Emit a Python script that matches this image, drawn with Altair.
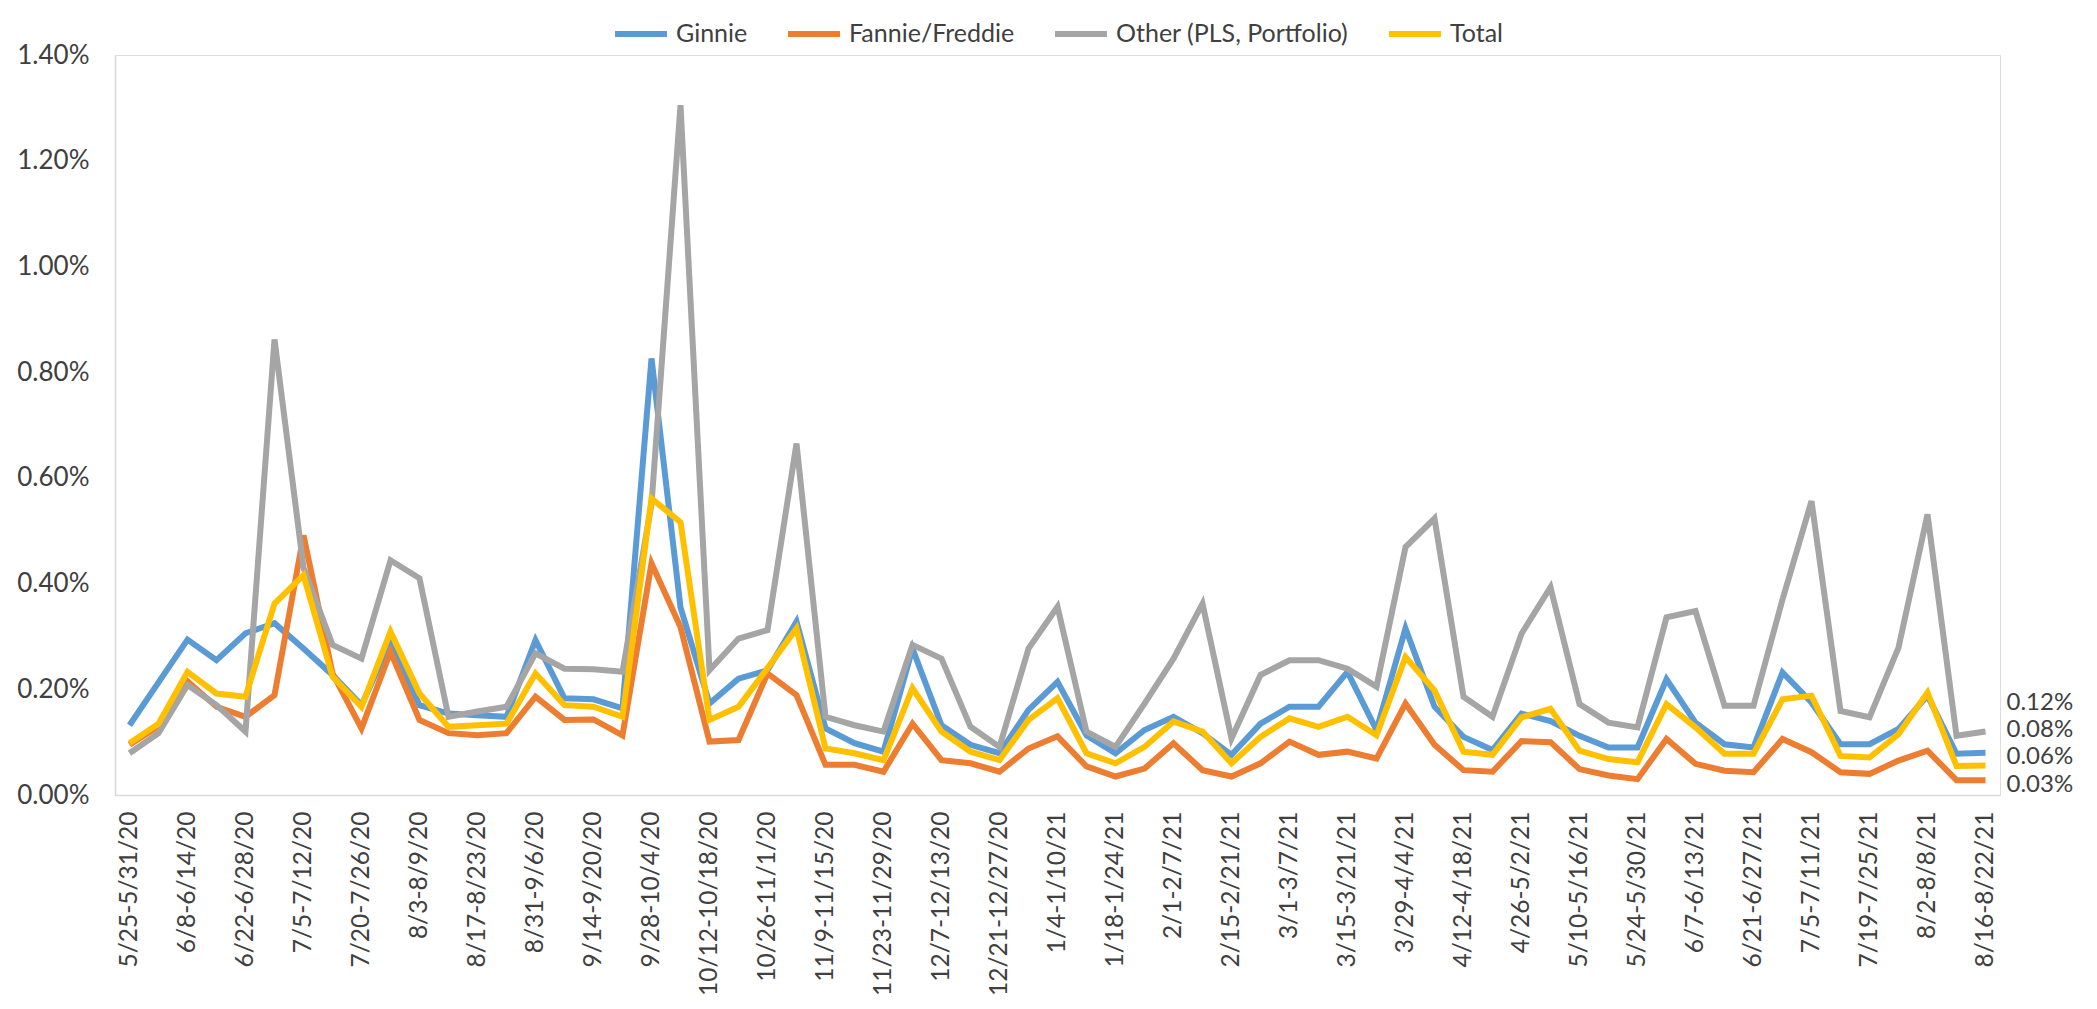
import altair as alt
import pandas as pd

weeks = [
    "5/25-5/31/20", "6/1-6/7/20", "6/8-6/14/20", "6/15-6/21/20", "6/22-6/28/20",
    "6/29-7/5/20", "7/5-7/12/20", "7/13-7/19/20", "7/20-7/26/20", "7/27-8/2/20",
    "8/3-8/9/20", "8/10-8/16/20", "8/17-8/23/20", "8/24-8/30/20", "8/31-9/6/20",
    "9/7-9/13/20", "9/14-9/20/20", "9/21-9/27/20", "9/28-10/4/20", "10/5-10/11/20",
    "10/12-10/18/20", "10/19-10/25/20", "10/26-11/1/20", "11/2-11/8/20", "11/9-11/15/20",
    "11/16-11/22/20", "11/23-11/29/20", "11/30-12/6/20", "12/7-12/13/20", "12/14-12/20/20",
    "12/21-12/27/20", "12/28-1/3/21", "1/4-1/10/21", "1/11-1/17/21", "1/18-1/24/21",
    "1/25-1/31/21", "2/1-2/7/21", "2/8-2/14/21", "2/15-2/21/21", "2/22-2/28/21",
    "3/1-3/7/21", "3/8-3/14/21", "3/15-3/21/21", "3/22-3/28/21", "3/29-4/4/21",
    "4/5-4/11/21", "4/12-4/18/21", "4/19-4/25/21", "4/26-5/2/21", "5/3-5/9/21",
    "5/10-5/16/21", "5/17-5/23/21", "5/24-5/30/21", "5/31-6/6/21", "6/7-6/13/21",
    "6/14-6/20/21", "6/21-6/27/21", "6/28-7/4/21", "7/5-7/11/21", "7/12-7/18/21",
    "7/19-7/25/21", "7/26-8/1/21", "8/2-8/8/21", "8/9-8/15/21", "8/16-8/22/21",
]

# values in percent
ginnie = [
    0.132, 0.213, 0.294, 0.255, 0.306, 0.325, 0.277, 0.227, 0.170, 0.290,
    0.170, 0.154, 0.151, 0.148, 0.293, 0.183, 0.181, 0.164, 0.826, 0.355,
    0.173, 0.220, 0.236, 0.328, 0.126, 0.098, 0.082, 0.277, 0.132, 0.095,
    0.079, 0.161, 0.214, 0.113, 0.079, 0.123, 0.148, 0.117, 0.076, 0.135,
    0.167, 0.167, 0.233, 0.123, 0.315, 0.167, 0.110, 0.085, 0.154, 0.140,
    0.112, 0.090, 0.090, 0.219, 0.137, 0.096, 0.090, 0.232, 0.175, 0.096,
    0.096, 0.125, 0.188, 0.078, 0.080,
]
fannie = [
    0.095, 0.130, 0.215, 0.167, 0.148, 0.189, 0.491, 0.230, 0.126, 0.271,
    0.142, 0.117, 0.113, 0.117, 0.186, 0.142, 0.143, 0.113, 0.438, 0.318,
    0.101, 0.104, 0.230, 0.189, 0.057, 0.057, 0.044, 0.135, 0.066, 0.060,
    0.044, 0.088, 0.111, 0.054, 0.035, 0.050, 0.098, 0.047, 0.035, 0.060,
    0.101, 0.076, 0.082, 0.069, 0.173, 0.095, 0.047, 0.044, 0.102, 0.100,
    0.049, 0.037, 0.030, 0.106, 0.059, 0.046, 0.043, 0.106, 0.081, 0.043,
    0.040, 0.065, 0.084, 0.028, 0.028,
]
other = [
    0.079, 0.117, 0.208, 0.170, 0.120, 0.862, 0.430, 0.284, 0.258, 0.444,
    0.410, 0.148, 0.158, 0.167, 0.268, 0.239, 0.238, 0.233, 0.550, 1.305,
    0.236, 0.296, 0.312, 0.665, 0.148, 0.132, 0.120, 0.284, 0.258, 0.129,
    0.091, 0.277, 0.356, 0.120, 0.091, 0.173, 0.258, 0.362, 0.107, 0.227,
    0.255, 0.255, 0.239, 0.205, 0.469, 0.523, 0.186, 0.148, 0.305, 0.393,
    0.172, 0.137, 0.128, 0.336, 0.348, 0.169, 0.169, 0.370, 0.556, 0.159,
    0.147, 0.279, 0.531, 0.112, 0.120,
]
total = [
    0.098, 0.135, 0.233, 0.192, 0.186, 0.362, 0.416, 0.224, 0.167, 0.309,
    0.192, 0.129, 0.132, 0.135, 0.230, 0.170, 0.167, 0.148, 0.561, 0.516,
    0.142, 0.167, 0.240, 0.315, 0.088, 0.079, 0.066, 0.202, 0.120, 0.082,
    0.066, 0.142, 0.183, 0.079, 0.060, 0.091, 0.139, 0.120, 0.060, 0.110,
    0.145, 0.129, 0.148, 0.113, 0.261, 0.198, 0.082, 0.076, 0.147, 0.163,
    0.084, 0.068, 0.062, 0.172, 0.128, 0.078, 0.078, 0.181, 0.188, 0.074,
    0.071, 0.115, 0.194, 0.055, 0.056,
]

series_names = ["Ginnie", "Fannie/Freddie", "Other (PLS, Portfolio)", "Total"]
series_colors = ["#5B9BD5", "#ED7D31", "#A5A5A5", "#FFC000"]
y_ticks = [0, 0.2, 0.4, 0.6, 0.8, 1.0, 1.2, 1.4]
label_weeks = weeks[::2]

rows = []
for name, vals in zip(series_names, [ginnie, fannie, other, total]):
    for i, (w, v) in enumerate(zip(weeks, vals)):
        rows.append({"week": w, "series": name, "value": v, "idx": i})
df = pd.DataFrame(rows)
last_df = df[df["idx"] == len(weeks) - 1]

FONT = "Lato"
TXT = "#404040"
AX = "#D9D9D9"

x_enc = alt.X(
    "week:N",
    sort=weeks,
    scale=alt.Scale(padding=0.5),
    axis=alt.Axis(
        title=None, values=label_weeks, labelAngle=270, ticks=False, grid=False,
        domainColor=AX, domainWidth=1.5, labelPadding=16, labelFontSize=24.5,
        labelFont=FONT, labelColor=TXT, labelOverlap=False, labelLimit=500,
    ),
)
y_enc = alt.Y(
    "value:Q",
    scale=alt.Scale(domain=[0, 1.4], nice=False, zero=True),
    axis=alt.Axis(
        title=None, values=y_ticks, labelExpr="format(datum.value, '.2f') + '%'",
        ticks=False, grid=False, domainColor=AX, domainWidth=1.5, labelPadding=26,
        labelFontSize=26, labelFont=FONT, labelColor=TXT,
    ),
)

lines = alt.Chart(df).mark_line(strokeWidth=6).encode(
    x=x_enc,
    y=y_enc,
    color=alt.Color(
        "series:N",
        scale=alt.Scale(domain=series_names, range=series_colors),
        sort=series_names,
        legend=alt.Legend(
            title=None, orient="none", legendX=497, legendY=-50,
            direction="horizontal", symbolType="stroke", symbolStrokeWidth=6,
            symbolSize=2700, labelFontSize=25, labelFont=FONT, labelColor=TXT,
            columnPadding=28, labelOffset=6, padding=0, labelLimit=600,
        ),
    ),
    order=alt.Order("idx:Q"),
)

label_dy = {"Ginnie": -23, "Fannie/Freddie": 5, "Other (PLS, Portfolio)": -29, "Total": -8}
labels = []
for name in series_names:
    labels.append(
        alt.Chart(last_df[last_df["series"] == name])
        .transform_calculate(lab="format(datum.value, '.2f') + '%'")
        .mark_text(align="left", baseline="middle", dx=21, dy=label_dy[name],
                   fontSize=24, font=FONT, color=TXT)
        .encode(x=alt.X("week:N", sort=weeks), y=alt.Y("value:Q"), text="lab:N")
    )

chart = alt.layer(lines, *labels).properties(
    width=1885,
    height=740,
    autosize=alt.AutoSizeParams(type="none"),
    padding={"left": 107, "top": 47, "right": 85, "bottom": 200},
).configure_view(stroke=None).configure(font=FONT, background="white")

chart.save("out.html", embed_options={"renderer": "svg", "actions": False})
